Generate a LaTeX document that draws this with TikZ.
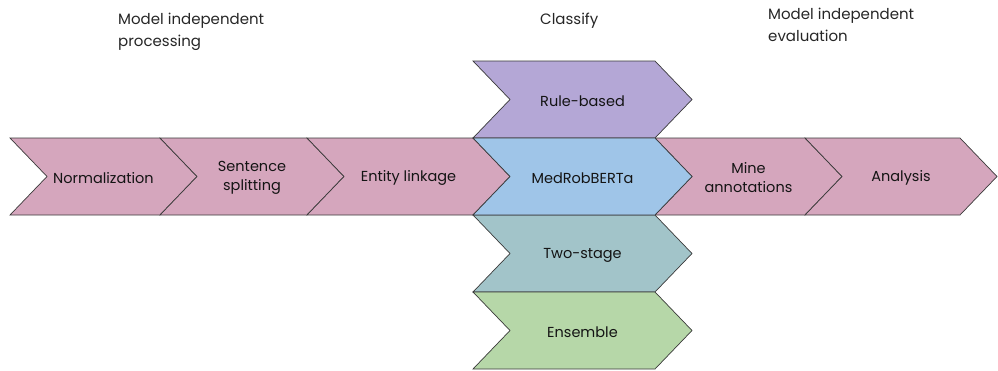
\documentclass[tikz,border=0pt]{standalone}
\usepackage{fontspec}
\setmainfont{Poppins}
\usepackage{tikz}
\definecolor{rowpink}{HTML}{D5A6BD}
\definecolor{rulepurple}{HTML}{B4A7D6}
\definecolor{bertblue}{HTML}{9FC5E8}
\definecolor{stageteal}{HTML}{A2C4C9}
\definecolor{ensgreen}{HTML}{B6D7A8}
\definecolor{edgegray}{HTML}{3A3A3A}
\def\chev#1#2#3#4#5#6{\filldraw[chevline,fill=#2] (#3,#5) -- (#4,#5) -- ++(37,38.5) -- ++(-37,38.5) -- (#3,#5+77) -- ++(37,-38.5) -- cycle;
  \node[chevtext] (#1) at ({(#3+#4+37)/2},#5+40) {#6};}

\begin{document}
\begin{tikzpicture}[x=1pt,y=-1pt,
    chevline/.style={draw=edgegray,line width=0.7pt},
    chevtext/.style={align=center,font=\fontsize{14.5}{19}\selectfont,text=black!92},
    heading/.style={anchor=north west,align=left,inner sep=0pt,font=\fontsize{15}{22}\selectfont,text=black!85}]
  \useasboundingbox (0,0) rectangle (998,370);
  % pipeline row
  \chev{norm}{rowpink}{10}{160}{138}{Normalization}
  \chev{split}{rowpink}{160}{307}{138}{Sentence\\splitting}
  \chev{link}{rowpink}{307}{473}{138}{Entity linkage}
  \chev{mine}{rowpink}{655}{805}{138}{Mine\\annotations}
  \chev{analysis}{rowpink}{805}{960}{138}{Analysis}
  % classifiers
  \chev{rule}{rulepurple}{473}{655}{61}{Rule-based}
  \chev{twostage}{stageteal}{473}{655}{215}{Two-stage}
  \chev{ensemble}{ensgreen}{473}{655}{292}{Ensemble}
  \chev{medrob}{bertblue}{473}{655}{138}{MedRobBERTa}
  % headings
  \node[heading] (hproc) at (118,13) {Model independent\\processing};
  \node[heading] (hclass) at (540,13) {Classify};
  \node[heading] (heval) at (768,8) {Model independent\\evaluation};
\end{tikzpicture}
\end{document}
